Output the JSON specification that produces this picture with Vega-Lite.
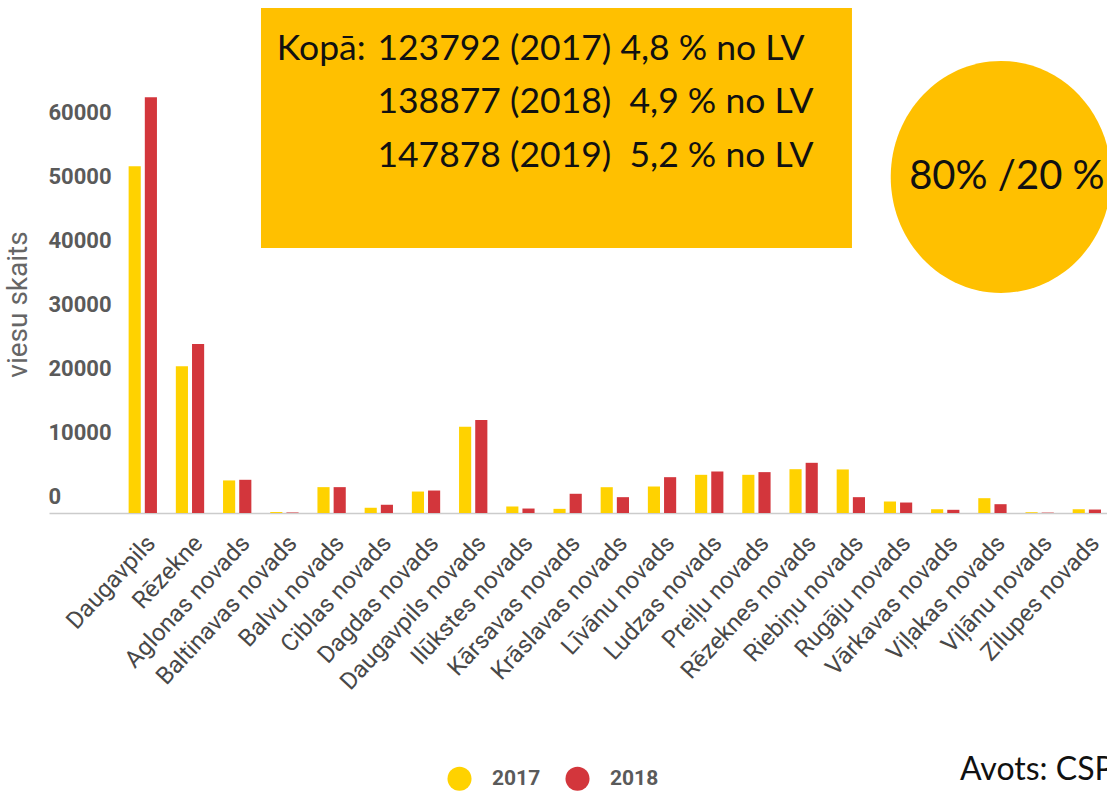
{
  "$schema": "https://vega.github.io/schema/vega-lite/v6.json",
  "width": 1058,
  "height": 447,
  "autosize": {"type": "none"},
  "padding": {"left": 49, "top": 66, "right": 0, "bottom": 283},
  "background": "white",
  "config": {"view": {"stroke": null}, "font": "Roboto"},
  "datasets": {
    "bars": [
      {"region": "Daugavpils", "year": "2017", "value": 54300},
      {"region": "Daugavpils", "year": "2018", "value": 65100},
      {"region": "Rēzekne", "year": "2017", "value": 23000},
      {"region": "Rēzekne", "year": "2018", "value": 26450},
      {"region": "Aglonas novads", "year": "2017", "value": 5100},
      {"region": "Aglonas novads", "year": "2018", "value": 5200},
      {"region": "Baltinavas novads", "year": "2017", "value": 150},
      {"region": "Baltinavas novads", "year": "2018", "value": 80},
      {"region": "Balvu novads", "year": "2017", "value": 4050},
      {"region": "Balvu novads", "year": "2018", "value": 4050},
      {"region": "Ciblas novads", "year": "2017", "value": 820},
      {"region": "Ciblas novads", "year": "2018", "value": 1290},
      {"region": "Dagdas novads", "year": "2017", "value": 3360},
      {"region": "Dagdas novads", "year": "2018", "value": 3520},
      {"region": "Daugavpils novads", "year": "2017", "value": 13500},
      {"region": "Daugavpils novads", "year": "2018", "value": 14550},
      {"region": "Ilūkstes novads", "year": "2017", "value": 1020},
      {"region": "Ilūkstes novads", "year": "2018", "value": 700},
      {"region": "Kārsavas novads", "year": "2017", "value": 650},
      {"region": "Kārsavas novads", "year": "2018", "value": 3010},
      {"region": "Krāslavas novads", "year": "2017", "value": 4040},
      {"region": "Krāslavas novads", "year": "2018", "value": 2480},
      {"region": "Līvānu novads", "year": "2017", "value": 4150},
      {"region": "Līvānu novads", "year": "2018", "value": 5610},
      {"region": "Ludzas novads", "year": "2017", "value": 5980},
      {"region": "Ludzas novads", "year": "2018", "value": 6500},
      {"region": "Preiļu novads", "year": "2017", "value": 5980},
      {"region": "Preiļu novads", "year": "2018", "value": 6400},
      {"region": "Rēzeknes novads", "year": "2017", "value": 6860},
      {"region": "Rēzeknes novads", "year": "2018", "value": 7860},
      {"region": "Riebiņu novads", "year": "2017", "value": 6820},
      {"region": "Riebiņu novads", "year": "2018", "value": 2480},
      {"region": "Rugāju novads", "year": "2017", "value": 1800},
      {"region": "Rugāju novads", "year": "2018", "value": 1640},
      {"region": "Vārkavas novads", "year": "2017", "value": 590},
      {"region": "Vārkavas novads", "year": "2018", "value": 500},
      {"region": "Viļakas novads", "year": "2017", "value": 2320},
      {"region": "Viļakas novads", "year": "2018", "value": 1380},
      {"region": "Viļānu novads", "year": "2017", "value": 120},
      {"region": "Viļānu novads", "year": "2018", "value": 60},
      {"region": "Zilupes novads", "year": "2017", "value": 590},
      {"region": "Zilupes novads", "year": "2018", "value": 540}
    ]
  },
  "layer": [
    {
      "data": {"name": "bars"},
      "mark": {"type": "bar"},
      "encoding": {
        "x": {
          "field": "region",
          "type": "nominal",
          "scale": {
            "domain": ["Daugavpils", "Rēzekne", "Aglonas novads", "Baltinavas novads", "Balvu novads", "Ciblas novads", "Dagdas novads", "Daugavpils novads", "Ilūkstes novads", "Kārsavas novads", "Krāslavas novads", "Līvānu novads", "Ludzas novads", "Preiļu novads", "Rēzeknes novads", "Riebiņu novads", "Rugāju novads", "Vārkavas novads", "Viļakas novads", "Viļānu novads", "Zilupes novads"],
            "paddingInner": 0.4,
            "paddingOuter": 0.907,
            "align": 0.93
          },
          "axis": {
            "title": null,
            "labelAngle": -47,
            "labelAlign": "right",
            "labelBaseline": "top",
            "labelPadding": 18,
            "labelFontSize": 24,
            "labelFontWeight": "normal",
            "labelColor": "#484848",
            "labelLimit": 400,
            "ticks": false,
            "tickSize": 0,
            "domainColor": "#cccccc",
            "domainWidth": 1.5,
            "grid": false
          }
        },
        "xOffset": {
          "field": "year",
          "type": "nominal",
          "scale": {"paddingInner": 0.25, "paddingOuter": 0}
        },
        "y": {
          "field": "value",
          "type": "quantitative",
          "scale": {"domain": [0, 70000], "nice": false, "zero": true},
          "axis": {
            "title": "viesu skaits",
            "titleFontSize": 28,
            "titleFontWeight": "normal",
            "titleColor": "#666666",
            "titleX": -17,
            "titleY": 238,
            "titleAngle": -90,
            "titleAlign": "center",
            "titleBaseline": "bottom",
            "values": [0, 10000, 20000, 30000, 40000, 50000, 60000],
            "format": "d",
            "labelAlign": "left",
            "labelBaseline": "middle",
            "labelOffset": -17,
            "labelPadding": 1,
            "labelFontSize": 22,
            "labelFontWeight": "bold",
            "labelColor": "#5a5a5a",
            "labelFlush": false,
            "labelOverlap": false,
            "ticks": false,
            "tickSize": 0,
            "domain": false,
            "grid": false
          }
        },
        "color": {
          "field": "year",
          "type": "nominal",
          "scale": {"domain": ["2017", "2018"], "range": ["#FFD200", "#D3363C"]},
          "legend": {
            "orient": "none",
            "legendX": 398,
            "legendY": 700,
            "direction": "horizontal",
            "title": null,
            "symbolType": "circle",
            "symbolSize": 580,
            "symbolStrokeWidth": 0,
            "labelFontSize": 21,
            "labelFontWeight": "bold",
            "labelColor": "#5a5a5a",
            "labelOffset": 20,
            "columnPadding": 24
          }
        }
      }
    },
    {
      "data": {"values": [{}]},
      "mark": {"type": "rect", "color": "#FFC000"},
      "encoding": {
        "x": {"datum": "Aglonas novads", "bandPosition": 1.34},
        "x2": {"datum": "Riebiņu novads", "bandPosition": 0.54},
        "y": {"datum": 41500, "type": "quantitative"},
        "y2": {"datum": 79080}
      }
    },
    {
      "data": {"values": [{"t": "Kopā:"}]},
      "mark": {"type": "text", "font": "Lato", "fontSize": 35.5, "color": "#111111", "align": "left", "baseline": "alphabetic"},
      "encoding": {
        "x": {"datum": "Aglonas novads", "bandPosition": 1.9},
        "y": {"datum": 70940, "type": "quantitative"},
        "text": {"field": "t"}
      }
    },
    {
      "data": {"values": [{"t": "123792 (2017) 4,8 % no LV\n138877 (2018)\u00a0 4,9 % no LV\n147878 (2019)\u00a0 5,2 % no LV"}]},
      "mark": {"type": "text", "font": "Lato", "fontSize": 35.5, "color": "#111111", "align": "left", "baseline": "alphabetic", "lineBreak": "\n", "lineHeight": 53.5},
      "encoding": {
        "x": {"datum": "Ciblas novads", "bandPosition": 0.45},
        "y": {"datum": 70940, "type": "quantitative"},
        "text": {"field": "t"}
      }
    },
    {
      "data": {"values": [{}]},
      "mark": {"type": "point", "shape": "M 0.95 0 C 0.95 0.5523 0.5247 1 0 1 C -0.5247 1 -0.95 0.5523 -0.95 0 C -0.95 -0.5523 -0.5247 -1 0 -1 C 0.5247 -1 0.95 -0.5523 0.95 0 Z", "size": 53824, "filled": true, "color": "#FFC000", "opacity": 1, "strokeWidth": 0},
      "encoding": {
        "x": {"datum": "Viļakas novads", "bandPosition": 0.8},
        "y": {"datum": 52620, "type": "quantitative"}
      }
    },
    {
      "data": {"values": [{"t": "80% /20 %"}]},
      "mark": {"type": "text", "font": "Lato", "fontSize": 40, "color": "#111111", "align": "center", "baseline": "middle"},
      "encoding": {
        "x": {"datum": "Viļakas novads", "bandPosition": 1.01},
        "y": {"datum": 52620, "type": "quantitative"},
        "text": {"field": "t"}
      }
    },
    {
      "data": {"values": [{"t": "Avots: CSP"}]},
      "mark": {"type": "text", "font": "Lato", "fontSize": 32, "color": "#111111", "align": "left", "baseline": "middle"},
      "encoding": {
        "x": {"datum": "Vārkavas novads", "bandPosition": 1.02},
        "y": {"datum": -40250, "type": "quantitative"},
        "text": {"field": "t"}
      }
    }
  ]
}
